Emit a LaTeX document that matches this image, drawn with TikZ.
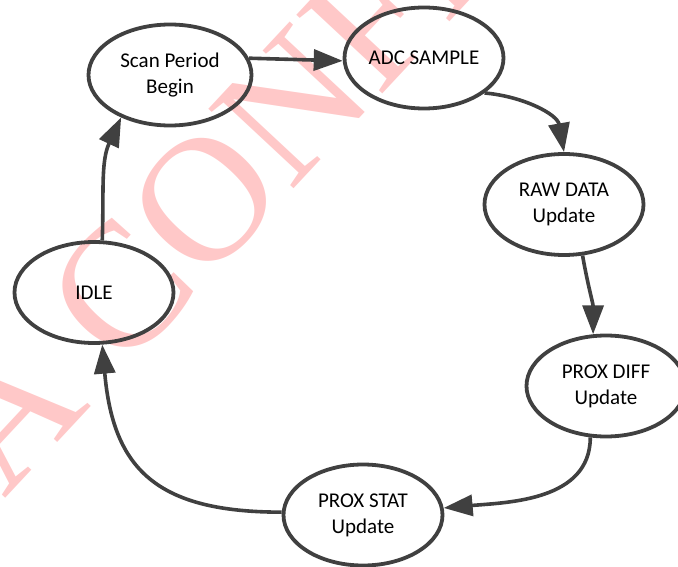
\documentclass[tikz,border=0pt]{standalone}
\usepackage{fontspec}
\setmainfont{Carlito}
\newfontfamily\markfont{Liberation Serif}
\usetikzlibrary{shapes.geometric, arrows.meta}
\definecolor{linegray}{RGB}{64,64,64}
\definecolor{markpink}{RGB}{255,200,200}

\begin{document}
\begin{tikzpicture}[x=1pt, y=1pt, >={Triangle[length=29pt, width=21pt]},
  stage/.style={ellipse, draw=linegray, line width=3.8pt, minimum width=159pt,
    minimum height=101pt, inner sep=0pt, align=center,
    font=\fontsize{21}{26}\selectfont},
  flow/.style={->, draw=linegray, line width=3.6pt}]

  % 0. 描画範囲
  \useasboundingbox (0,0) rectangle (678,-567);

  % 1. 透かし文字 (斜め 47 度)
  \begin{scope}
    \clip (0,0) rectangle (678,-567);
    \node[anchor=base west, rotate=47, inner sep=0pt, text=markpink,
      font=\markfont\fontsize{178}{178}\selectfont] (mark) at (4,-500) {A CONFI};
  \end{scope}

  % 2. 各状態 (楕円)
  \node[stage, minimum width=163pt] (scan) at (170,-75) {Scan Period\\Begin};
  \node[stage] (adc)  at (424,-58)    {ADC SAMPLE};
  \node[stage] (raw)  at (564,-204.5) {RAW DATA\\Update};
  \node[stage] (diff) at (606,-386)   {PROX DIFF\\Update};
  \node[stage] (stat) at (363,-515)   {PROX STAT\\Update};
  \node[stage] (idle) at (94,-292.5)  {IDLE};

  % 3. 遷移 (時計回り)
  \draw[flow] (scan.12) -- (adc.182);
  \draw[flow] (adc.-30) to[out=-5, in=100] (raw.north);
  \draw[flow] (raw.-70) to[out=-80, in=90] (diff.104);
  \draw[flow] (diff.-107) to[out=-90, in=5] (stat.5);
  \draw[flow] (stat.178) to[out=180, in=-85, looseness=1.3] (idle.-81);
  \draw[flow] (idle.81) to[out=88, in=-115] (scan.221);

\end{tikzpicture}
\end{document}
